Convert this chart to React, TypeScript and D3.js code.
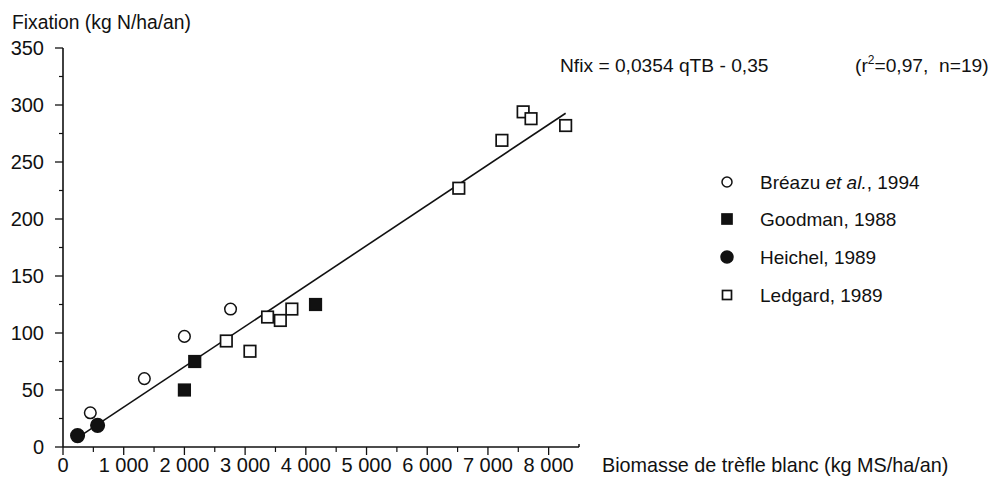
import React from "react";
import * as d3 from "d3";

const breazuX = [450, 1340, 2000, 2760];
const breazuY = [30, 60, 97, 121];
const goodmanX = [2000, 2170, 4160];
const goodmanY = [50, 75, 125];
const heichelX = [240, 570];
const heichelY = [10, 19];
const ledgardX = [2690, 3080, 3370, 3580, 3770, 6520, 7230, 7580, 7710, 8280];
const ledgardY = [93, 84, 114, 111, 121, 227, 269, 294, 288, 282];
const regStart = 200;
const regEnd = 8280;
const slope = 0.0354;
const intercept = -0.35;
const xTicks = [0, 1000, 2000, 3000, 4000, 5000, 6000, 7000, 8000];
const xTickLabels = ["0", "1 000", "2 000", "3 000", "4 000", "5 000", "6 000", "7 000", "8 000"];
const yTicks = [0, 50, 100, 150, 200, 250, 300, 350];
const legendLabels = ["Goodman, 1988", "Heichel, 1989", "Ledgard, 1989"];

const FONT = "'Liberation Sans', Arial, Helvetica, sans-serif";

export default function App() {
  const x = d3.scaleLinear().domain([0, 8500]).range([63, 579]);
  const y = d3.scaleLinear().domain([0, 350]).range([447, 48]);
  const xMinor = d3.range(500, 8500, 1000);
  const yMinor = d3.range(25, 350, 50);
  const line = d3.line<number>().x((d) => x(d)).y((d) => y(slope * d + intercept));

  const sq = (cx: number, cy: number, s: number, fill: boolean, key: string) => (
    <rect key={key} x={cx - s / 2} y={cy - s / 2} width={s} height={s}
      fill={fill ? "#111" : "white"} stroke="#111" strokeWidth={1.7} />
  );
  const circ = (cx: number, cy: number, r: number, fill: boolean, key: string) => (
    <circle key={key} cx={cx} cy={cy} r={r} fill={fill ? "#111" : "white"} stroke="#111" strokeWidth={1.5} />
  );

  const legY = [182, 219, 257, 295];
  const legX = 727;
  const legTextX = 760;

  return (
    <svg width={994} height={482} style={{ position: "absolute", left: 0, top: 0, background: "white" }}
      fontFamily={FONT} fill="#111">
      {/* axes */}
      <line x1={x(0)} x2={x(8500)} y1={y(0)} y2={y(0)} stroke="#111" strokeWidth={1.6} />
      <line x1={x(0)} x2={x(0)} y1={y(0)} y2={y(350)} stroke="#111" strokeWidth={1.6} />
      <line x1={x(8500)} x2={x(8500)} y1={y(0)} y2={y(0) - 3} stroke="#111" strokeWidth={1.5} />
      {xTicks.map((t, i) => (
        <g key={"xt" + t}>
          <line x1={x(t)} x2={x(t)} y1={y(0)} y2={y(0) + 8} stroke="#111" strokeWidth={1.3} />
          <text x={x(t)} y={472} textAnchor="middle" fontSize={20}>{xTickLabels[i]}</text>
        </g>
      ))}
      {xMinor.map((t) => (
        <line key={"xm" + t} x1={x(t)} x2={x(t)} y1={y(0)} y2={y(0) + 5} stroke="#111" strokeWidth={1.2} />
      ))}
      {yTicks.map((t) => (
        <g key={"yt" + t}>
          <line x1={x(0) - 8} x2={x(0)} y1={y(t)} y2={y(t)} stroke="#111" strokeWidth={1.3} />
          <text x={44} y={y(t)} dy="0.36em" textAnchor="end" fontSize={20}>{t}</text>
        </g>
      ))}
      {yMinor.map((t) => (
        <line key={"ym" + t} x1={x(0) - 4} x2={x(0)} y1={y(t)} y2={y(t)} stroke="#111" strokeWidth={1.2} />
      ))}
      <text x={12} y={29} fontSize={19.3}>Fixation (kg N/ha/an)</text>
      <text x={602} y={472} fontSize={19.8}>Biomasse de trèfle blanc (kg MS/ha/an)</text>

      {/* regression */}
      <path d={line([regStart, regEnd]) || ""} stroke="#111" strokeWidth={1.6} fill="none" />

      {/* points */}
      {breazuX.map((v, i) => circ(x(v), y(breazuY[i]), 5.8, false, "b" + i))}
      {goodmanX.map((v, i) => sq(x(v), y(goodmanY[i]), 11.5, true, "g" + i))}
      {heichelX.map((v, i) => circ(x(v), y(heichelY[i]), 6.8, true, "h" + i))}
      {ledgardX.map((v, i) => sq(x(v), y(ledgardY[i]), 11.5, false, "l" + i))}

      {/* equation */}
      <text x={560} y={72} fontSize={19.2}>Nfix = 0,0354 qTB - 0,35</text>
      <text x={855} y={72} fontSize={19.2}>
        (r<tspan fontSize={12} dy={-8}>2</tspan><tspan dy={8}>{"=0,97,\u00a0 n=19)"}</tspan>
      </text>

      {/* legend */}
      {circ(legX, legY[0], 5, false, "lb")}
      {sq(legX, legY[1], 10, true, "lg")}
      {circ(legX, legY[2], 6, true, "lh")}
      {sq(legX, legY[3], 9, false, "ll")}
      <text x={legTextX} y={legY[0] + 6.5} fontSize={19}>
        Bréazu <tspan fontStyle="italic">et al.</tspan>, 1994
      </text>
      {legendLabels.map((l, i) => (
        <text key={l} x={legTextX} y={legY[i + 1] + 6.5} fontSize={19}>{l}</text>
      ))}
    </svg>
  );
}
